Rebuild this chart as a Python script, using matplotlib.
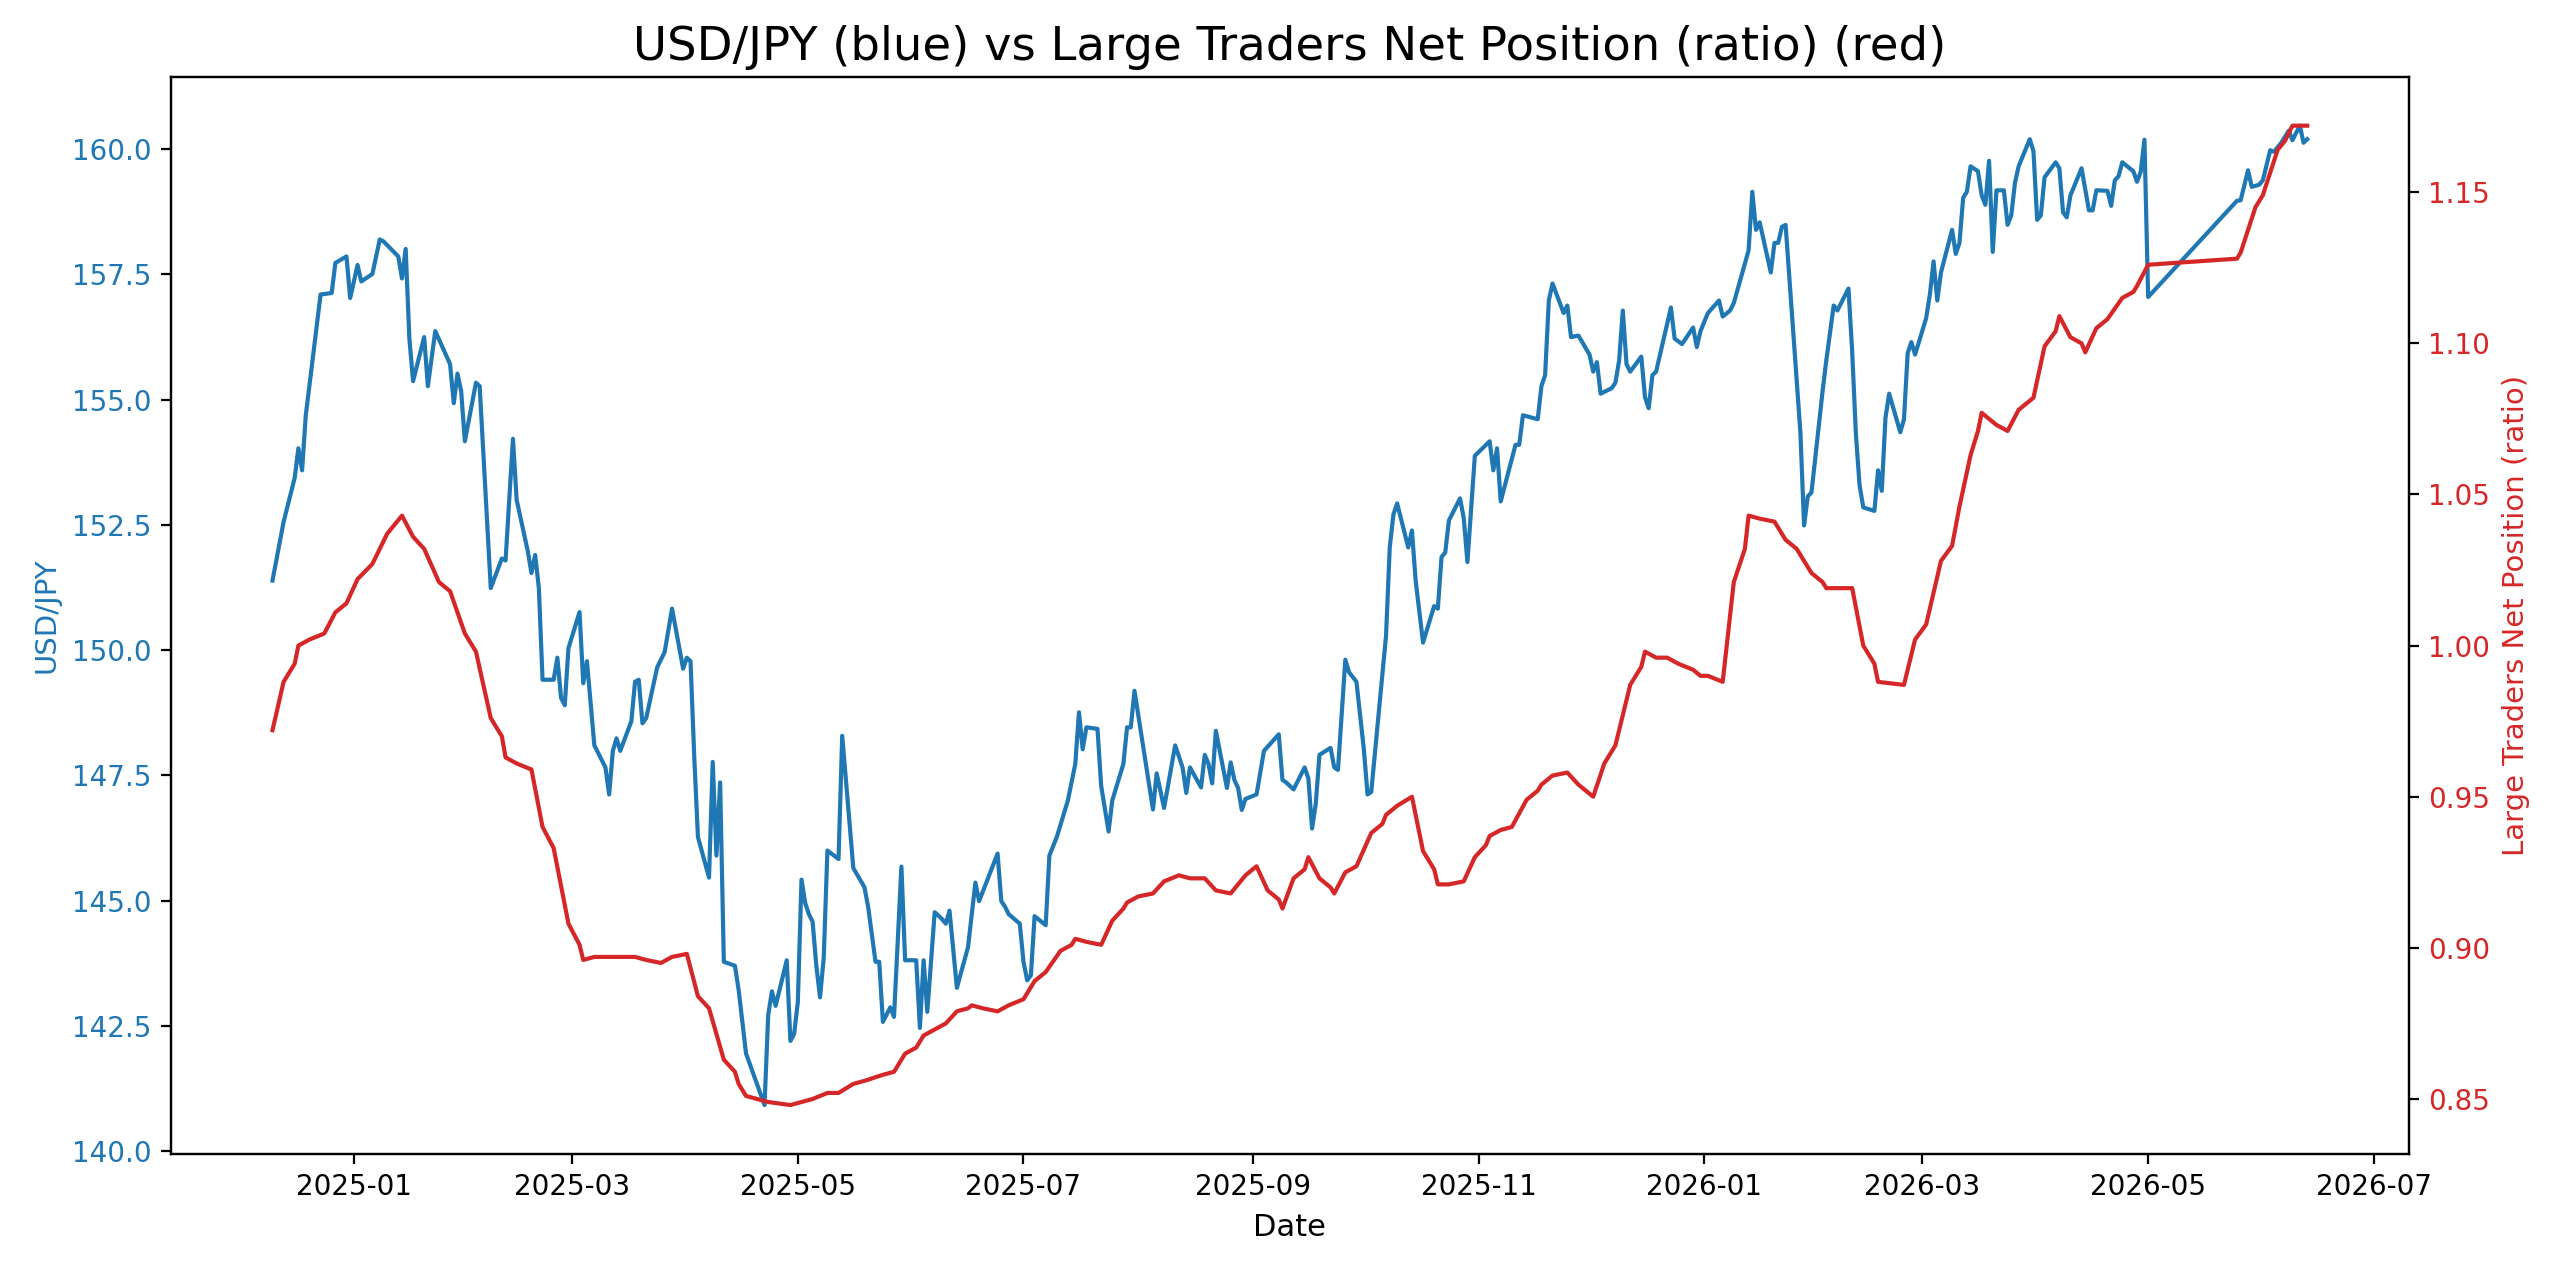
import matplotlib
matplotlib.use("Agg")
import matplotlib.pyplot as plt
import pandas as pd
import numpy as np

BASE_DATE = "2025-01-01"

# USD/JPY: day offset from BASE_DATE, rate
usd_day = [-22, -19, -16, -15, -14, -13, -9, -6, -5, -2, -1, 1, 2, 5, 7, 8, 12, 13, 14, 15,
           16, 19, 20, 22, 26, 27, 28, 29, 30, 33, 34, 37, 40, 41, 43, 44, 47, 48, 49, 50,
           51, 54, 55, 56, 57, 58, 61, 62, 63, 65, 68, 69, 70, 71, 72, 75, 76, 77, 78, 79,
           82, 84, 86, 89, 90, 91, 92, 93, 96, 97, 98, 99, 100, 103, 104, 106, 111, 112, 113, 114,
           117, 118, 119, 120, 121, 122, 123, 124, 125, 126, 127, 128, 131, 132, 135, 138, 139, 141, 142, 143,
           145, 146, 148, 149, 152, 153, 154, 155, 157, 159, 160, 161, 163, 166, 168, 169, 174, 175, 176, 177,
           180, 181, 182, 183, 184, 187, 188, 190, 193, 195, 196, 197, 198, 201, 202, 204, 205, 208, 209, 210,
           211, 216, 217, 219, 222, 224, 225, 226, 229, 230, 231, 232, 233, 236, 237, 238, 239, 240, 241, 244,
           246, 250, 251, 252, 254, 257, 258, 259, 260, 261, 264, 265, 266, 268, 269, 271, 273, 274, 275, 279,
           280, 281, 282, 285, 286, 287, 289, 292, 293, 294, 295, 296, 299, 300, 301, 303, 307, 308, 309, 310,
           314, 315, 316, 320, 321, 322, 323, 324, 327, 328, 329, 331, 334, 335, 336, 337, 340, 341, 342, 343,
           344, 345, 348, 349, 350, 351, 352, 356, 357, 359, 362, 363, 364, 366, 369, 370, 372, 373, 377, 378,
           379, 380, 383, 384, 385, 386, 387, 391, 392, 393, 394, 397, 398, 400, 401, 404, 405, 406, 407, 408,
           411, 412, 413, 414, 415, 418, 419, 420, 421, 422, 425, 426, 427, 428, 429, 432, 433, 434, 435, 436,
           437, 439, 440, 441, 442, 443, 444, 446, 447, 448, 449, 450, 453, 454, 455, 456, 457, 460, 461, 462,
           463, 464, 467, 469, 470, 471, 474, 475, 476, 477, 478, 481, 482, 483, 484, 485, 509, 510, 512, 513,
           515, 516, 518, 519, 521, 523, 524, 526, 527, 528]
usd_jpy = [151.39, 152.56, 153.44, 154.03, 153.59, 154.69, 157.10, 157.13, 157.73, 157.86, 157.03, 157.69, 157.36, 157.51, 158.20, 158.16, 157.86, 157.42, 158.01, 156.22,
           155.37, 156.25, 155.27, 156.37, 155.71, 154.93, 155.52, 155.17, 154.17, 155.34, 155.27, 151.24, 151.83, 151.79, 154.22, 153.00, 151.98, 151.54, 151.90, 151.24,
           149.41, 149.41, 149.85, 149.05, 148.90, 150.04, 150.76, 149.34, 149.78, 148.10, 147.66, 147.12, 147.99, 148.24, 147.99, 148.58, 149.37, 149.41, 148.54, 148.64,
           149.66, 149.96, 150.83, 149.63, 149.85, 149.78, 147.88, 146.27, 145.46, 147.77, 145.90, 147.36, 143.78, 143.70, 143.22, 141.95, 140.92, 142.72, 143.19, 142.90,
           143.81, 142.20, 142.34, 142.97, 145.42, 144.95, 144.73, 144.58, 143.70, 143.07, 143.85, 146.00, 145.83, 148.29, 145.65, 145.27, 144.88, 143.78, 143.78, 142.58,
           142.87, 142.68, 145.68, 143.81, 143.81, 142.46, 143.81, 142.78, 144.77, 144.63, 144.54, 144.80, 143.26, 144.07, 145.36, 144.99, 145.94, 144.99, 144.88, 144.73,
           144.54, 143.78, 143.41, 143.51, 144.69, 144.51, 145.90, 146.27, 147.00, 147.73, 148.76, 148.02, 148.46, 148.43, 147.29, 146.38, 147.00, 147.73, 148.46, 148.46,
           149.19, 146.82, 147.54, 146.85, 148.10, 147.66, 147.15, 147.66, 147.26, 147.91, 147.73, 147.34, 148.39, 147.25, 147.76, 147.41, 147.25, 146.81, 147.03, 147.12,
           147.99, 148.32, 147.41, 147.36, 147.22, 147.66, 147.44, 146.44, 146.93, 147.91, 148.05, 147.66, 147.61, 149.81, 149.56, 149.37, 148.02, 147.12, 147.17, 150.29,
           152.05, 152.71, 152.93, 152.05, 152.39, 151.39, 150.15, 150.88, 150.83, 151.86, 151.95, 152.59, 153.03, 152.64, 151.76, 153.88, 154.17, 153.59, 154.03, 152.97,
           154.10, 154.10, 154.69, 154.61, 155.27, 155.49, 156.98, 157.32, 156.73, 156.88, 156.25, 156.28, 155.90, 155.56, 155.75, 155.12, 155.23, 155.34, 155.78, 156.78,
           155.71, 155.56, 155.86, 155.05, 154.83, 155.49, 155.56, 156.84, 156.22, 156.11, 156.44, 156.05, 156.37, 156.73, 156.98, 156.66, 156.78, 156.93, 157.98, 159.15,
           158.39, 158.54, 157.54, 158.13, 158.13, 158.45, 158.49, 154.35, 152.49, 153.07, 153.15, 155.17, 155.78, 156.88, 156.78, 157.22, 155.96, 154.32, 153.29, 152.85,
           152.78, 153.59, 153.18, 154.64, 155.12, 154.35, 154.61, 155.93, 156.15, 155.90, 156.63, 157.10, 157.76, 156.98, 157.54, 158.39, 157.91, 158.13, 159.03, 159.15,
           159.66, 159.56, 159.08, 158.89, 159.77, 157.95, 159.18, 159.18, 158.49, 158.68, 159.33, 159.66, 160.20, 159.96, 158.59, 158.68, 159.44, 159.74, 159.62, 158.74,
           158.64, 159.08, 159.62, 158.78, 158.78, 159.18, 159.17, 158.87, 159.38, 159.46, 159.74, 159.56, 159.35, 159.55, 160.19, 157.05, 158.97, 158.98, 159.58, 159.25,
           159.29, 159.38, 159.98, 159.95, 160.13, 160.37, 160.18, 160.47, 160.13, 160.20]

# Large traders net position (ratio): day offset from BASE_DATE, ratio
pos_day = [-22, -19, -16, -15, -12, -8, -5, -2, 1, 5, 9, 13, 16, 19, 23, 26, 30, 33, 37, 40,
           41, 44, 48, 51, 54, 58, 61, 62, 65, 69, 76, 79, 83, 86, 90, 93, 96, 100, 103, 104,
           106, 112, 118, 124, 128, 131, 135, 138, 143, 146, 149, 152, 154, 157, 160, 163, 166, 167, 170, 174,
           177, 181, 184, 187, 191, 194, 195, 198, 202, 205, 208, 209, 212, 216, 219, 223, 226, 230, 233, 237,
           241, 244, 247, 250, 251, 254, 257, 258, 261, 264, 265, 268, 271, 275, 278, 279, 282, 286, 289, 292,
           293, 296, 300, 303, 306, 307, 310, 313, 317, 320, 321, 324, 328, 331, 335, 338, 341, 345, 348, 349,
           352, 355, 358, 362, 364, 366, 370, 373, 376, 377, 380, 384, 387, 390, 394, 397, 398, 405, 408, 411,
           412, 419, 422, 425, 429, 432, 434, 437, 439, 440, 444, 447, 450, 454, 457, 460, 461, 464, 467, 468,
           471, 474, 478, 481, 482, 485, 509, 510, 514, 516, 520, 522, 524, 528]
pos_ratio = [0.972, 0.988, 0.994, 1.000, 1.002, 1.004, 1.011, 1.014, 1.022, 1.027, 1.037, 1.043, 1.036, 1.032, 1.021, 1.018, 1.004, 0.998, 0.976, 0.970,
             0.963, 0.961, 0.959, 0.940, 0.933, 0.908, 0.901, 0.896, 0.897, 0.897, 0.897, 0.896, 0.895, 0.897, 0.898, 0.884, 0.880, 0.863, 0.859, 0.855,
             0.851, 0.849, 0.848, 0.850, 0.852, 0.852, 0.855, 0.856, 0.858, 0.859, 0.865, 0.867, 0.871, 0.873, 0.875, 0.879, 0.880, 0.881, 0.880, 0.879,
             0.881, 0.883, 0.889, 0.892, 0.899, 0.901, 0.903, 0.902, 0.901, 0.909, 0.913, 0.915, 0.917, 0.918, 0.922, 0.924, 0.923, 0.923, 0.919, 0.918,
             0.924, 0.927, 0.919, 0.916, 0.913, 0.923, 0.926, 0.930, 0.923, 0.920, 0.918, 0.925, 0.927, 0.938, 0.941, 0.944, 0.947, 0.950, 0.932, 0.926,
             0.921, 0.921, 0.922, 0.930, 0.934, 0.937, 0.939, 0.940, 0.949, 0.952, 0.954, 0.957, 0.958, 0.954, 0.950, 0.961, 0.967, 0.987, 0.993, 0.998,
             0.996, 0.996, 0.994, 0.992, 0.990, 0.990, 0.988, 1.021, 1.032, 1.043, 1.042, 1.041, 1.035, 1.032, 1.024, 1.021, 1.019, 1.019, 1.000, 0.994,
             0.988, 0.987, 1.002, 1.007, 1.028, 1.033, 1.046, 1.063, 1.071, 1.077, 1.073, 1.071, 1.078, 1.082, 1.099, 1.104, 1.109, 1.102, 1.100, 1.097,
             1.105, 1.108, 1.115, 1.117, 1.119, 1.126, 1.128, 1.130, 1.145, 1.149, 1.164, 1.167, 1.172, 1.172]

TITLE = "USD/JPY (blue) vs Large Traders Net Position (ratio) (red)"

base = pd.Timestamp(BASE_DATE)
usd_dates = base + pd.to_timedelta(usd_day, unit="D")
pos_dates = base + pd.to_timedelta(pos_day, unit="D")

fig, ax1 = plt.subplots(figsize=(12.8, 6.34), dpi=200)
fig.subplots_adjust(left=0.0667, right=0.941, top=0.9395, bottom=0.0899)

ax1.plot(usd_dates, usd_jpy, color="tab:blue", linewidth=1.5)
ax1.set_xlabel("Date", fontsize=11)
ax1.set_ylabel("USD/JPY", color="tab:blue", fontsize=10.5)
ax1.tick_params(axis="y", labelcolor="tab:blue")

ax2 = ax1.twinx()
ax2.plot(pos_dates, pos_ratio, color="tab:red", linewidth=1.5)
ax2.set_ylabel("Large Traders Net Position (ratio)", color="tab:red", fontsize=10.5)
ax2.tick_params(axis="y", labelcolor="tab:red")

ax1.set_title(TITLE, fontsize=16.75)

fig.savefig("out.png", dpi=200)
